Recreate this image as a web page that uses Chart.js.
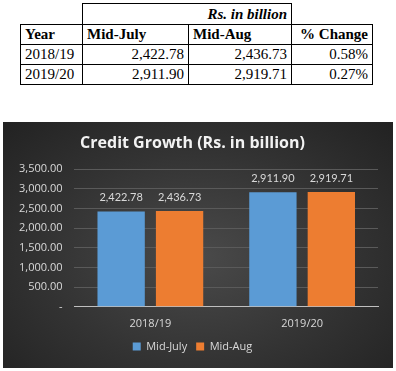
<!DOCTYPE html>
<html>
<head>
<meta charset="utf-8">
<script src="https://cdn.jsdelivr.net/npm/chart.js@4"></script>
<style>
  body { margin: 0; width: 396px; height: 371px; background: #fff; position: relative; overflow: hidden; }
  table.data {
    position: absolute; left: 20px; top: 3px; border-collapse: collapse;
    font-family: "Liberation Serif", "Times New Roman", serif; font-size: 15px; color: #000;
  }
  table.data td { border: 1px solid #000; padding: 0 4px; height: 19px; line-height: 19px; }
  table.data td.num { text-align: right; }
  table.data td.none { border: none; }
  table.data th { font-weight: bold; text-align: left; border: 1px solid #000; padding: 0 4px; height: 19px; }
  #chartBox {
    position: absolute; left: 3px; top: 122px; width: 390px; height: 246px;
    background: radial-gradient(ellipse at 50% 55%, #4a4a4a 0%, #333 55%, #222 100%);
  }
</style>
</head>
<body>
<table class="data">
  <tr>
    <td class="none" style="width:53px"></td>
    <td colspan="2" style="text-align:right;font-weight:bold;font-style:italic;height:20px">Rs. in billion</td>
    <td class="none" style="width:72px"></td>
  </tr>
  <tr>
    <th style="width:53px">Year</th>
    <th style="width:97px">Mid-July</th>
    <th style="width:94px">Mid-Aug</th>
    <th style="width:72px;text-align:right">% Change</th>
  </tr>
  <tbody id="tbody"></tbody>
</table>
<div id="chartBox"><canvas id="creditChart"></canvas></div>
<script>
const years = ['2018/19', '2019/20'];
const midJuly = [2422.78, 2911.90];
const midAug = [2436.73, 2919.71];
const pctChange = ['0.58%', '0.27%'];
const yTicks = [0, 500, 1000, 1500, 2000, 2500, 3000, 3500];

const fmt = v => v.toLocaleString('en-US', { minimumFractionDigits: 2, maximumFractionDigits: 2 });

// table rows
const tbody = document.getElementById('tbody');
years.forEach((y, i) => {
  const tr = document.createElement('tr');
  tr.innerHTML = `
    <td>${y}</td>
    <td class="num">${fmt(midJuly[i])}</td>
    <td class="num">${fmt(midAug[i])}</td>
    <td class="num">${pctChange[i]}</td>`;
  tbody.appendChild(tr);
});

// value labels above bars
const barLabels = {
  id: 'barLabels',
  afterDatasetsDraw(chart) {
    const ctx = chart.ctx;
    ctx.save();
    ctx.font = '11px Lato, sans-serif';
    ctx.fillStyle = '#d9d9d9';
    ctx.textAlign = 'center';
    ctx.textBaseline = 'middle';
    chart.data.datasets.forEach((ds, di) => {
      chart.getDatasetMeta(di).data.forEach((bar, i) => {
        ctx.fillText(fmt(ds.data[i]), bar.x, bar.y - 14);
      });
    });
    ctx.restore();
  }
};

new Chart(document.getElementById('creditChart'), {
  type: 'bar',
  data: {
    labels: years,
    datasets: [
      { label: 'Mid-July', data: midJuly, backgroundColor: '#5B9BD5' },
      { label: 'Mid-Aug', data: midAug, backgroundColor: '#ED7D31' }
    ]
  },
  options: {
    responsive: true,
    maintainAspectRatio: false,
    animation: false,
    categoryPercentage: 0.77,
    barPercentage: 0.81,
    layout: { padding: { left: 4, right: 15, top: 7, bottom: 6 } },
    plugins: {
      title: {
        display: true,
        text: 'Credit Growth (Rs. in billion)',
        color: '#f2f2f2',
        font: { family: 'Open Sans', size: 16, weight: 'bold' },
        padding: { top: 5, bottom: 16 }
      },
      legend: {
        position: 'bottom',
        labels: {
          color: '#d9d9d9',
          boxWidth: 8,
          boxHeight: 8,
          padding: 9,
          font: { family: 'Open Sans', size: 11 }
        }
      },
      tooltip: { enabled: false }
    },
    scales: {
      x: {
        grid: { display: false },
        border: { color: '#bfbfbf' },
        ticks: { color: '#d9d9d9', padding: 2, font: { family: 'Open Sans', size: 11 } }
      },
      y: {
        min: yTicks[0],
        max: yTicks[yTicks.length - 1],
        afterBuildTicks: axis => { axis.ticks = yTicks.map(v => ({ value: v })); },
        grid: { color: '#5a5a5a', drawTicks: false },
        border: { display: false },
        ticks: {
          color: '#d9d9d9',
          padding: 12,
          font: { family: 'Open Sans', size: 11 },
          callback: v => v === 0 ? '-' : fmt(v)
        }
      }
    }
  },
  plugins: [barLabels]
});
</script>
</body>
</html>
